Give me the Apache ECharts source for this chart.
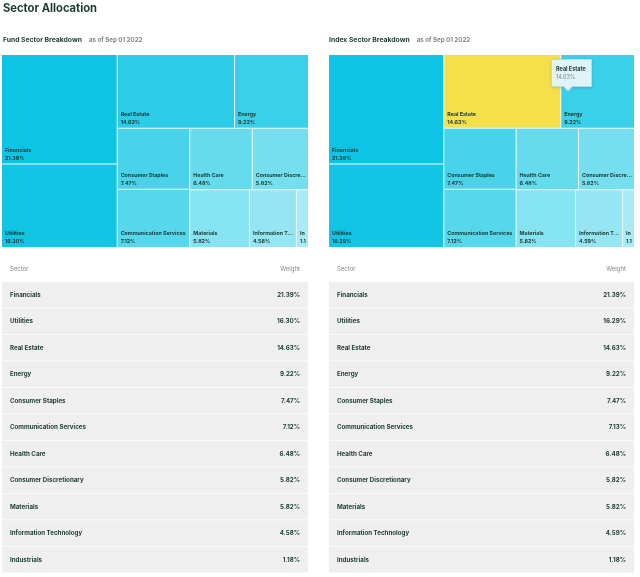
<!DOCTYPE html>
<html><head><meta charset="utf-8">
<script src="https://cdn.jsdelivr.net/npm/echarts@6/dist/echarts.min.js"></script>
<style>html,body{margin:0;padding:0;background:#fff}#c{width:640px;height:577px}</style>
</head><body><div id="c"></div>
<script>
// ---- data ----
const pageTitle = 'Sector Allocation';
const fundTitle = 'Fund Sector Breakdown';
const indexTitle = 'Index Sector Breakdown';
const asOfDate = 'as of Sep 01 2022';
const tableHeaders = ['Sector', 'Weight'];
const sectors = ['Financials','Utilities','Real Estate','Energy','Consumer Staples','Communication Services','Health Care','Consumer Discretionary','Materials','Information Technology','Industrials'];
const fundWeights = [21.39,16.30,14.63,9.22,7.47,7.12,6.48,5.82,5.82,4.58,1.18];
const indexWeights = [21.39,16.29,14.63,9.22,7.47,7.13,6.48,5.82,5.82,4.59,1.18];
const hoveredSector = 'Real Estate';

// ---- styles ----
const sectorColors = ['#0dc4e4','#12c5e4','#2ccbe7','#3bd0e9','#48d3ea','#56d7ec','#66dbee','#76dfef','#86e3f1','#95e6f2','#a9ebf5'];
const FONT = 'Inter, "Noto Sans", sans-serif';
const DARK = '#1b3a33';
const GREY = '#7d8784';
const LH = 8;

function treeData(weights, heights) {
  return sectors.map((s, i) => {
    const item = { name: s, value: weights[i], itemStyle: { color: sectorColors[i] } };
    if (heights && heights[s] != null) {
      item.label = { padding: [Math.max(heights[s] - 2 * LH - 1.5, 0), 1, 0, 3] };
    }
    return item;
  });
}

function treemapSeries(weights, left, width, heights) {
  return {
    type: 'treemap',
    left: left, top: 55, width: width, height: 192,
    roam: false, nodeClick: false, animation: false,
    breadcrumb: { show: false },
    sort: false,
    squareRatio: 1,
    levels: [{ itemStyle: { borderWidth: 0, gapWidth: 1, borderColor: '#e6f8fb' } }],
    label: {
      show: true, position: 'insideTopLeft', padding: [0, 1, 0, 3],
      overflow: 'truncate', ellipsis: '...',
      formatter: p => '{n|' + p.name + '}\n{v|' + p.value.toFixed(2) + '%}',
      rich: {
        n: { fontFamily: FONT, fontSize: 5.3, fontWeight: 'bold', color: DARK, lineHeight: LH },
        v: { fontFamily: FONT, fontSize: 5.3, fontWeight: 'bold', color: DARK, lineHeight: LH }
      }
    },
    emphasis: { itemStyle: { color: '#f4e04b' } },
    data: treeData(weights, heights)
  };
}

function tableGraphics(weights, x0, w) {
  const els = [];
  els.push({ type: 'text', x: x0 + 8, y: 269, style: { text: tableHeaders[0], font: '6px ' + FONT, fill: GREY, verticalAlign: 'middle' } });
  els.push({ type: 'text', x: x0 + w - 8, y: 269, style: { text: tableHeaders[1], font: '6px ' + FONT, fill: GREY, align: 'right', verticalAlign: 'middle' } });
  sectors.forEach((s, i) => {
    const y = 281.7 + i * 26.5;
    els.push({ type: 'rect', shape: { x: x0, y: y, width: w, height: 25.7 }, style: { fill: '#efefef' } });
    els.push({ type: 'text', x: x0 + 8, y: y + 13.3, style: { text: s, font: 'bold 6.2px ' + FONT, fill: DARK, verticalAlign: 'middle' } });
    els.push({ type: 'text', x: x0 + w - 8, y: y + 13.3, style: { text: weights[i].toFixed(2) + '%', font: 'bold 6.2px ' + FONT, fill: DARK, align: 'right', verticalAlign: 'middle' } });
  });
  return els;
}

function subTitle(text, left) {
  return { text: '{a|' + text + '} {b|' + asOfDate + '}', left: left, top: 31, padding: 0,
    textStyle: { rich: { a: { fontFamily: FONT, fontSize: 6.8, fontWeight: 'bold', color: DARK }, b: { fontFamily: FONT, fontSize: 6.2, color: GREY, padding: [0, 0, 0, 2] } } } };
}

const chart = echarts.init(document.getElementById('c'), null, { renderer: 'canvas' });
function buildOption(h0, h1) {
  return {
    animation: false,
    title: [
      { text: pageTitle, left: 3, top: 3, padding: 0, textStyle: { fontFamily: FONT, fontSize: 11.2, fontWeight: 'bold', color: DARK } },
      subTitle(fundTitle, 3),
      subTitle(indexTitle, 329)
    ],
    tooltip: {
      trigger: 'item', triggerOn: 'none', alwaysShowContent: true, transitionDuration: 0,
      position: [551, 59],
      backgroundColor: 'rgba(229,244,249,0.97)', borderColor: '#b9dbe4', borderWidth: 1, padding: [5, 5, 5, 4],
      extraCssText: 'box-shadow:0 1px 3px rgba(0,0,0,0.15);border-radius:1px;',
      formatter: p => '<div style="font-family:Inter,sans-serif;font-size:5.5px;line-height:8px;color:' + DARK + ';font-weight:bold">' + p.name + '</div>' +
        '<div style="font-family:Inter,sans-serif;font-size:5.5px;line-height:8px;color:' + GREY + '">' + p.value.toFixed(2) + '%</div>' +
        '<div style="position:absolute;left:13px;bottom:-3.5px;width:5px;height:5px;background:#e5f4f9;border-right:1px solid #b9dbe4;border-bottom:1px solid #b9dbe4;transform:rotate(45deg)"></div>'
    },
    series: [treemapSeries(fundWeights, 2, 306, h0), treemapSeries(indexWeights, 329, 305, h1)],
    graphic: tableGraphics(fundWeights, 2, 306).concat(tableGraphics(indexWeights, 329, 305))
  };
}
chart.setOption(buildOption(null, null));

// Read the cell heights that ECharts' own treemap layout produced, to push labels to the cells' bottom.
function cellHeights(si) {
  const out = {};
  try {
    const data = chart.getModel().getSeriesByIndex(si).getData();
    for (let i = 0; i < data.count(); i++) {
      const lay = data.getItemLayout(i);
      const nm = data.getName(i);
      if (lay && nm) out[nm] = lay.height;
    }
  } catch (e) {}
  return out;
}
chart.setOption(buildOption(cellHeights(0), cellHeights(1)), { replaceMerge: ['series'] });
chart.dispatchAction({ type: 'highlight', seriesIndex: 1, name: hoveredSector });
chart.dispatchAction({ type: 'showTip', seriesIndex: 1, name: hoveredSector });
</script></body></html>
